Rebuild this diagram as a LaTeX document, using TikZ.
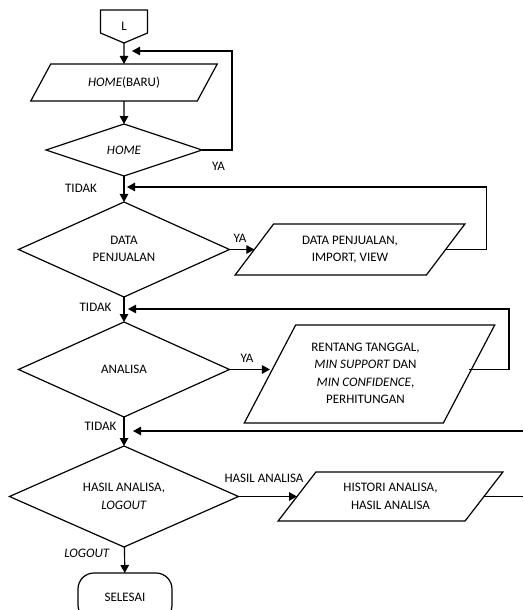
\documentclass[tikz,border=0pt]{standalone}
\usepackage{fontspec}
\setmainfont{Carlito}
\usetikzlibrary{shapes.geometric,arrows.meta}
\begin{document}
\begin{tikzpicture}[x=1pt,y=-1pt,
  every node/.style={font=\fontsize{13}{17.4}\selectfont, inner sep=0pt, outer sep=0pt},
  flow/.style={line width=1.2pt},
  arr/.style={flow,-{Triangle[length=8pt,width=8.5pt]}},
  decision/.style={diamond, draw, line width=1.2pt, align=center, aspect=2.2},
  io/.style={trapezium, draw, line width=1.2pt, trapezium stretches=true, align=center},
  terminal/.style={draw, line width=1.2pt, rounded corners=16pt, align=center}]
\useasboundingbox (0,0) rectangle (523,610);

% off-page connector
\draw[flow] (100.5,10) -- (147.5,10) -- (147.5,33) -- (124,43) -- (100.5,33) -- cycle;
\node (L) at (124,26) {L};
\coordinate (Ltip) at (124,43);

% main column
\node[io, trapezium left angle=49.1, trapezium right angle=130.9,
      minimum width=187pt, minimum height=37pt] (home) at (124,82.5) {\textit{HOME}(BARU)};
\node[decision, minimum width=156pt, minimum height=52pt] (dHome) at (124,150) {\raisebox{-3pt}{\textit{HOME}}};
\node[decision, minimum width=211pt, minimum height=95pt] (dData) at (124,249.5) {\raisebox{-2.5pt}{\begin{tabular}{@{}c@{}}DATA\\PENJUALAN\end{tabular}}};
\node[decision, minimum width=211pt, minimum height=95pt] (dAnal) at (124,369.5) {ANALISA};
\node[decision, minimum width=229pt, minimum height=101pt] (dHasil) at (124,496.5) {HASIL ANALISA,\\\textit{LOGOUT}};
\node[terminal, minimum width=94pt, minimum height=48pt] (selesai) at (125,597) {SELESAI};

% input/output boxes
\node[io, trapezium left angle=48.6, trapezium right angle=131.4,
      minimum width=230pt, minimum height=51pt] (pData) at (350,249.5) {DATA PENJUALAN,\\IMPORT, VIEW};
\node[io, trapezium left angle=63.4, trapezium right angle=116.6,
      minimum width=251pt, minimum height=98pt] (pRent) at (369.5,374) {\hspace*{-8pt}\begin{tabular}{@{}c@{}}RENTANG TANGGAL,\\\textit{MIN SUPPORT} DAN\\\textit{MIN CONFIDENCE},\\PERHITUNGAN\end{tabular}};
\node[io, trapezium left angle=47.4, trapezium right angle=132.6,
      minimum width=225pt, minimum height=49pt] (pHist) at (390.5,496.5) {HISTORI ANALISA,\\HASIL ANALISA};

% merge points on the main column
\coordinate (j1) at (124,51);
\coordinate (j2) at (124,187);
\coordinate (j3) at (124,309);
\coordinate (j4) at (124,431);
\coordinate (r4) at (523,431);
\coordinate (r5) at (523,496.5);

% main flow
\draw[arr] (Ltip) -- (home.north);
\draw[arr] (home) -- (dHome);
\draw[arr] (dHome) -- (dData);
\draw[arr] (dData) -- (dAnal);
\draw[arr] (dAnal) -- (dHasil);
\draw[arr] (dHasil) -- (selesai);

% branches to the right
\draw[arr] (dData.east) -- (pData.left side);
\draw[arr] (dAnal.east) -- (pRent.left side |- dAnal.east);
\draw[arr] (dHasil.east) -- (pHist.left side);

% loops back to the main column
\draw[arr, shorten >=8pt] (dHome.east) -- ++(30,0) |- (j1);
\draw[arr, shorten >=3pt] (pData.right side) -- ++(41,0) |- (j2);
\draw[arr, shorten >=4pt] (pRent.right side |- dAnal.east) -- ++(40,0) |- (j3);
\draw[arr, shorten >=9pt] (r4) -- (j4);
\draw[flow] (pHist.right side) -- (r5);

% labels
\node (ya1) at (218.5,166) {YA};
\node (tidak1) at (81,188) {TIDAK};
\node (ya2) at (240,238) {YA};
\node (tidak2) at (95.5,307) {TIDAK};
\node (ya3) at (247,358) {YA};
\node (tidak3) at (100.5,426) {TIDAK};
\node (hasil) at (264,478) {HASIL ANALISA};
\node (logout) at (87,553) {\textit{LOGOUT}};
\end{tikzpicture}
\end{document}
